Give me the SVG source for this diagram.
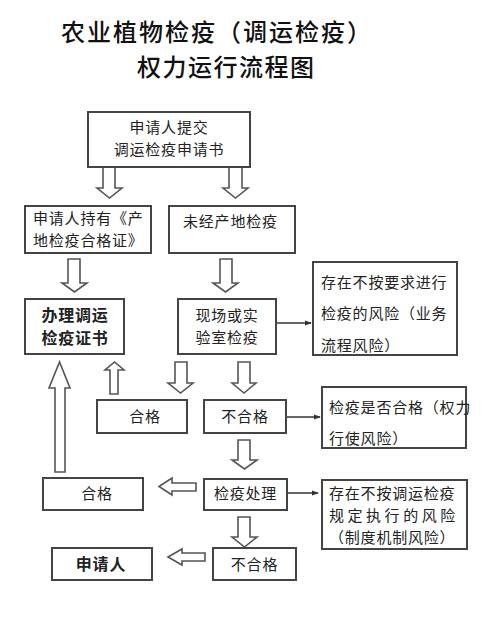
<svg xmlns="http://www.w3.org/2000/svg" width="492" height="634" viewBox="0 0 492 634">
<defs>
<marker id="ah" viewBox="0 0 8 8" refX="7" refY="4" markerWidth="7" markerHeight="7" markerUnits="userSpaceOnUse" orient="auto">
<path d="M0,1 L8,4 L0,7 Z" fill="#333"/>
</marker>
<style>
.bx{fill:#fff;stroke:#444;stroke-width:2}
.ar{fill:#fff;stroke:#555;stroke-width:1.6;stroke-linejoin:miter}
.ln{stroke:#333;stroke-width:1.5;fill:none;marker-end:url(#ah)}
text{font-family:"Noto Sans CJK SC","Noto Sans CJK JP",sans-serif;fill:#222;font-size:15px;letter-spacing:0.8px}
.c{text-anchor:middle}
.b{font-weight:bold;font-size:16px}
.t{font-size:24px;fill:#111;font-weight:500;letter-spacing:2px}
</style>
</defs>
<rect width="492" height="634" fill="#fff"/>
<g id="title">
<text class="t"><tspan x="61" y="41">农业植物检疫（调运检疫）</tspan><tspan x="137" y="76" letter-spacing="1.5">权力运行流程图</tspan></text>
</g>
<g id="connectors">
<polygon class="ar" points="103,167 115,167 115,188 122,188 109.5,198 97,188 103,188"/>
<polygon class="ar" points="229,167 242,167 242,188 248,188 235.5,198 223,188 229,188"/>
<polygon class="ar" points="68,259 80,259 80,283 87,283 74.5,292 62,283 68,283"/>
<polygon class="ar" points="220,259 232,259 232,283 238,283 225.5,292 213,283 220,283"/>
<polygon class="ar" points="175,362 187,362 187,383 193,383 180.5,393 168,383 175,383"/>
<polygon class="ar" points="238,362 250,362 250,383 256,383 244,393 232,383 238,383"/>
<polygon class="ar" points="110,394 118,394 118,370 124,370 114.5,362 105,370 110,370"/>
<polygon class="ar" points="55,472 65,472 65,388 70,388 59.5,362 49,388 55,388"/>
<polygon class="ar" points="238,440 250,440 250,460 257,460 244.5,469 232,460 238,460"/>
<polygon class="ar" points="238,517 250,517 250,537 257,537 244.5,547 232,537 238,537"/>
<polygon class="ar" points="196,483 196,491 172,491 172,495 159,486.5 172,478 172,483"/>
<polygon class="ar" points="205,553 205,561 182,561 182,565 168,557 182,549 182,553"/>
<line class="ln" x1="276" y1="323" x2="311" y2="323"/>
<line class="ln" x1="286" y1="417" x2="320" y2="417"/>
<line class="ln" x1="287" y1="493" x2="318" y2="493"/>
</g>
<g id="n1"><rect class="bx" x="88" y="112" width="162" height="55"/>
<text class="c"><tspan x="169" y="133">申请人提交</tspan><tspan x="169" y="155">调运检疫申请书</tspan></text></g>
<g id="n2"><rect class="bx" x="25" y="206" width="126" height="47"/>
<text><tspan x="33" y="224">申请人持有《产</tspan><tspan x="33" y="246">地检疫合格证》</tspan></text></g>
<g id="n3"><rect class="bx" x="169" y="206" width="126" height="47"/>
<text x="183" y="226.5">未经产地检疫</text></g>
<g id="n4"><rect class="bx" x="25" y="299" width="99" height="55"/>
<text class="c b"><tspan x="75" y="320.5">办理调运</tspan><tspan x="75" y="344">检疫证书</tspan></text></g>
<g id="n5"><rect class="bx" x="178" y="299" width="98" height="55"/>
<text class="c"><tspan x="227" y="320.5">现场或实</tspan><tspan x="227" y="342.5">验室检疫</tspan></text></g>
<g id="n6"><rect class="bx" x="313" y="262" width="144" height="93"/>
<text><tspan x="321" y="287.5">存在不按要求进行</tspan><tspan x="321" y="318.5">检疫的风险（业务</tspan><tspan x="321" y="350.5">流程风险）</tspan></text></g>
<g id="n7"><rect class="bx" x="97" y="400" width="90" height="33"/>
<text class="c" x="145" y="422">合格</text></g>
<g id="n8"><rect class="bx" x="204" y="400" width="82" height="33"/>
<text class="c" x="245" y="422">不合格</text></g>
<g id="n9"><rect class="bx" x="322" y="387" width="144" height="61"/>
<text><tspan x="329" y="412.5">检疫是否合格（权力</tspan><tspan x="329" y="443.5">行使风险）</tspan></text></g>
<g id="n10"><rect class="bx" x="204" y="479" width="83" height="31"/>
<text class="c" x="245.5" y="499">检疫处理</text></g>
<g id="n11"><rect class="bx" x="322" y="480" width="145" height="69"/>
<text><tspan x="329" y="498.5">存在不按调运检疫</tspan><tspan x="329" y="520.5" textLength="127" lengthAdjust="spacing">规定执行的风险</tspan><tspan x="329" y="542.5">（制度机制风险）</tspan></text></g>
<g id="n12"><rect class="bx" x="43" y="478" width="100" height="32"/>
<text class="c" x="97" y="499">合格</text></g>
<g id="n13"><rect class="bx" x="213" y="548" width="83" height="32"/>
<text class="c" x="254.5" y="569.5">不合格</text></g>
<g id="n14"><rect class="bx" x="52" y="548" width="100" height="32"/>
<text class="c b" x="101" y="569.5">申请人</text></g>
</svg>
